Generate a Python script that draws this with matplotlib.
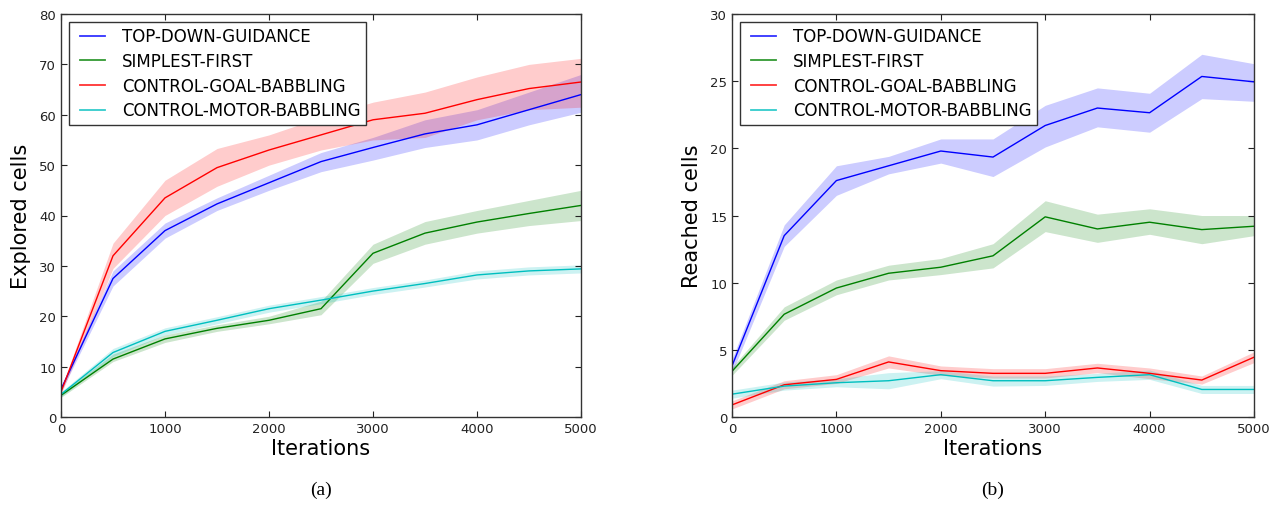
import matplotlib
matplotlib.use("Agg")
import matplotlib.pyplot as plt
from matplotlib.legend_handler import HandlerLine2D
from matplotlib.lines import Line2D
import numpy as np

## Dados
iterations = [0, 500, 1000, 1500, 2000, 2500, 3000, 3500, 4000, 4500, 5000]
labels = ["TOP-DOWN-GUIDANCE", "SIMPLEST-FIRST", "CONTROL-GOAL-BABBLING", "CONTROL-MOTOR-BABBLING"]
colors = ["b", "g", "r", "c"]

# (a) explored cells: media, limite inferior, limite superior
explored_top = [5.5, 27.5, 37.0, 42.3, 46.5, 50.7, 53.5, 56.2, 58.0, 61.0, 64.0]
explored_top_lo = [5.0, 26.0, 35.5, 41.0, 45.0, 48.7, 51.0, 53.5, 55.0, 58.0, 60.5]
explored_top_hi = [6.0, 29.0, 38.5, 43.5, 48.0, 52.5, 55.5, 59.0, 61.0, 64.5, 68.0]

explored_simple = [4.3, 11.5, 15.5, 17.6, 19.2, 21.5, 32.5, 36.5, 38.7, 40.4, 42.0]
explored_simple_lo = [3.9, 11.0, 14.8, 17.0, 18.5, 20.3, 30.5, 34.3, 36.5, 38.0, 39.0]
explored_simple_hi = [4.7, 12.5, 16.3, 18.3, 20.0, 23.0, 34.3, 38.8, 41.0, 43.0, 45.0]

explored_goal = [5.0, 32.0, 43.5, 49.5, 53.0, 56.0, 59.0, 60.3, 63.0, 65.2, 66.5]
explored_goal_lo = [4.5, 29.5, 40.0, 45.8, 50.0, 53.0, 55.0, 55.5, 59.0, 61.0, 61.5]
explored_goal_hi = [5.5, 34.5, 47.0, 53.3, 56.0, 59.5, 62.5, 64.5, 67.5, 70.0, 71.2]

explored_motor = [4.5, 12.8, 17.0, 19.2, 21.5, 23.2, 25.0, 26.5, 28.2, 29.0, 29.4]
explored_motor_lo = [4.0, 12.0, 16.3, 18.5, 20.8, 22.5, 24.3, 25.8, 27.4, 28.2, 28.6]
explored_motor_hi = [5.0, 13.6, 17.7, 19.9, 22.2, 23.9, 25.7, 27.2, 29.0, 29.8, 30.2]

# (b) reached cells
reached_top = [3.8, 13.5, 17.6, 18.7, 19.8, 19.35, 21.7, 23.0, 22.65, 25.35, 24.95]
reached_top_lo = [3.3, 12.7, 16.5, 18.1, 18.9, 17.9, 20.1, 21.6, 21.2, 23.7, 23.5]
reached_top_hi = [4.3, 14.3, 18.7, 19.4, 20.7, 20.7, 23.2, 24.5, 24.1, 27.0, 26.3]

reached_simple = [3.4, 7.65, 9.6, 10.7, 11.15, 12.0, 14.9, 14.0, 14.5, 13.95, 14.2]
reached_simple_lo = [3.1, 7.2, 9.1, 10.2, 10.6, 11.1, 13.8, 13.0, 13.6, 12.9, 13.5]
reached_simple_hi = [3.7, 8.2, 10.2, 11.3, 11.8, 12.9, 16.1, 15.1, 15.5, 15.0, 15.0]

reached_goal = [0.9, 2.4, 2.8, 4.1, 3.45, 3.25, 3.25, 3.65, 3.25, 2.75, 4.45]
reached_goal_lo = [0.6, 2.1, 2.5, 3.65, 3.1, 2.9, 2.9, 3.3, 2.85, 2.45, 4.05]
reached_goal_hi = [1.2, 2.7, 3.15, 4.55, 3.8, 3.6, 3.6, 4.0, 3.65, 3.05, 4.85]

reached_motor = [1.7, 2.3, 2.55, 2.7, 3.15, 2.7, 2.7, 2.95, 3.15, 2.05, 2.05]
reached_motor_lo = [1.4, 2.0, 2.25, 2.1, 2.85, 2.3, 2.35, 2.65, 2.8, 1.75, 1.75]
reached_motor_hi = [2.0, 2.6, 2.85, 3.3, 3.45, 3.05, 3.05, 3.25, 3.5, 2.35, 2.35]

explored = [(explored_top, explored_top_lo, explored_top_hi),
            (explored_simple, explored_simple_lo, explored_simple_hi),
            (explored_goal, explored_goal_lo, explored_goal_hi),
            (explored_motor, explored_motor_lo, explored_motor_hi)]
reached = [(reached_top, reached_top_lo, reached_top_hi),
           (reached_simple, reached_simple_lo, reached_simple_hi),
           (reached_goal, reached_goal_lo, reached_goal_hi),
           (reached_motor, reached_motor_lo, reached_motor_hi)]

plt.rcParams['font.family'] = ['DejaVu Sans']

fig = plt.figure(figsize=(12.86, 5.06), dpi=100)
ax1 = fig.add_axes([61 / 1286, 1 - 418 / 506, 520 / 1286, 403 / 506])
ax2 = fig.add_axes([732 / 1286, 1 - 418 / 506, 522 / 1286, 403 / 506])


def draw_panel(ax, series, ymax, ystep, ylabel, caption):
    for (mean, lo, hi), col, lab in zip(series, colors, labels):
        ax.fill_between(iterations, lo, hi, color=col, alpha=0.2, linewidth=0)
        ax.plot(iterations, mean, color=col, linewidth=1.0, label=lab)
    ax.set_xlim(0, 5000)
    ax.set_ylim(0, ymax)
    ax.set_xticks(np.arange(0, 5001, 1000))
    ax.set_yticks(np.arange(0, ymax + 1, ystep))
    ax.tick_params(direction='in', top=True, right=True, length=4, labelsize=9.5,
                   colors='#222222')
    for sp in ax.spines.values():
        sp.set_color('#333333')
        sp.set_linewidth(1.0)
    ax.set_xlabel("Iterations", fontsize=15, labelpad=2)
    ax.set_ylabel(ylabel, fontsize=15, labelpad=6)
    # alcas da legenda um pouco mais opacas, como no original
    handles = [Line2D([], [], color=c, linewidth=1.3, alpha=0.8) for c in colors]
    leg = ax.legend(handles, labels, loc='upper left', fontsize=12, handlelength=1.86,
                    handletextpad=1.0, borderpad=0.35, labelspacing=0.4,
                    borderaxespad=0.45, fancybox=False, framealpha=1,
                    handler_map={Line2D: HandlerLine2D(xpad=0.35)})
    leg.get_frame().set_edgecolor('#333333')
    leg.get_frame().set_linewidth(1.0)
    ax.text(0.5, -0.18, caption, transform=ax.transAxes, ha='center', va='center',
            fontsize=14, family='Liberation Serif')


draw_panel(ax1, explored, 80, 10, "Explored cells", "(a)")
draw_panel(ax2, reached, 30, 5, "Reached cells", "(b)")

fig.savefig("out.png", dpi=100)
